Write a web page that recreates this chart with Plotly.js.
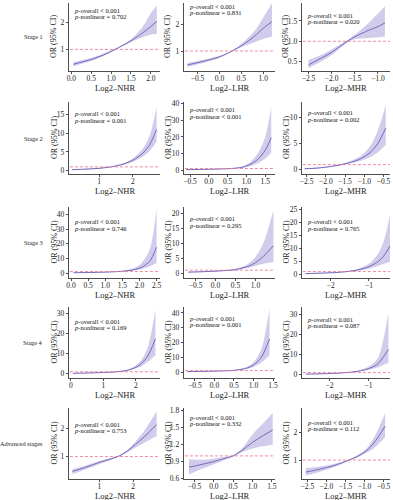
<!DOCTYPE html>
<html><head><meta charset="utf-8">
<script src="https://cdn.plot.ly/plotly-3.0.1.min.js"></script>
<style>html,body{margin:0;padding:0;background:#fff}#chart{width:393px;height:500px}</style>
</head><body><div id="chart"></div>
<script>
// ---------- DATA ----------
const stageLabels = ['Stage 1','Stage 2','Stage 3','Stage 4','Advanced stages'];
const markers = ['NHR','LHR','MHR'];
const yTitle = 'OR (95% CI)';
const pOverall = '< 0.001';
const pNonlinear = [
  ['= 0.702','= 0.831','= 0.020'],
  ['= 0.001','< 0.001','= 0.002'],
  ['= 0.746','= 0.295','= 0.765'],
  ['= 0.169','= 0.001','= 0.087'],
  ['= 0.753','= 0.332','= 0.112']
];

// Stage 1
const s1NhrX  = [0.05,0.5,0.8,1.1,1.5,1.8,2.0,2.15];
const s1NhrOR = [0.45,0.63,0.79,1.0,1.32,1.62,1.85,2.04];
const s1NhrLo = [0.38,0.57,0.75,0.98,1.27,1.45,1.55,1.57];
const s1NhrHi = [0.52,0.69,0.84,1.02,1.38,1.85,2.35,2.63];
const s1LhrX  = [-0.73,-0.4,0.0,0.29,0.55,0.8,1.0,1.2];
const s1LhrOR = [0.48,0.6,0.78,1.0,1.25,1.55,1.85,2.1];
const s1LhrLo = [0.4,0.54,0.74,0.98,1.18,1.33,1.45,1.54];
const s1LhrHi = [0.55,0.66,0.82,1.02,1.33,1.75,2.25,2.79];
const s1MhrX  = [-2.5,-2.2,-2.0,-1.66,-1.5,-1.2,-1.0,-0.85];
const s1MhrOR = [0.42,0.6,0.73,1.0,1.11,1.27,1.36,1.45];
const s1MhrLo = [0.34,0.52,0.66,0.97,1.05,1.08,1.1,1.11];
const s1MhrHi = [0.54,0.68,0.8,1.03,1.16,1.45,1.68,1.86];
// Stage 2
const s2NhrX  = [0.2,0.6,1.0,1.35,1.7,2.0,2.3,2.5,2.7];
const s2NhrOR = [0.25,0.4,0.62,1.0,1.7,2.8,4.7,7.0,11];
const s2NhrLo = [0.15,0.3,0.52,0.9,1.5,2.4,3.8,5.3,7.7];
const s2NhrHi = [0.4,0.5,0.72,1.1,1.9,3.3,6.0,9.5,17];
const s2LhrX  = [-0.6,-0.2,0.2,0.6,0.9,1.1,1.3,1.5,1.66];
const s2LhrOR = [0.3,0.45,0.65,1.0,1.8,3.5,6.5,12,19.5];
const s2LhrLo = [0.2,0.35,0.55,0.85,1.4,2.4,4.2,7,10.7];
const s2LhrHi = [0.45,0.55,0.8,1.2,2.3,4.8,10,20,38];
const s2MhrX  = [-2.55,-2.2,-1.9,-1.6,-1.35,-1.1,-0.85,-0.65,-0.44];
const s2MhrOR = [0.2,0.35,0.6,1.0,1.45,2.1,3.3,5.0,8.0];
const s2MhrLo = [0.12,0.27,0.52,0.9,1.25,1.7,2.4,3.3,4.8];
const s2MhrHi = [0.3,0.45,0.7,1.1,1.7,2.6,4.5,7.5,12.4];
// Stage 3
const s3NhrX  = [0.07,0.5,1.0,1.5,1.8,2.05,2.3,2.5];
const s3NhrOR = [0.2,0.35,0.6,1.2,2.1,3.8,8.0,17.6];
const s3NhrLo = [0.1,0.25,0.5,0.95,1.5,2.5,4.5,6.8];
const s3NhrHi = [0.35,0.45,0.7,1.5,3.0,6.5,16,44];
const s3LhrX  = [-0.68,-0.3,0.1,0.5,0.8,1.0,1.2,1.45];
const s3LhrOR = [0.35,0.5,0.75,1.2,2.2,3.5,5.6,9.1];
const s3LhrLo = [0.2,0.38,0.65,1.0,1.7,2.4,3.1,3.7];
const s3LhrHi = [0.55,0.65,0.88,1.5,3.0,5.4,10,20.8];
const s3MhrX  = [-2.66,-2.3,-1.9,-1.6,-1.3,-1.0,-0.75,-0.6,-0.45];
const s3MhrOR = [0.2,0.35,0.6,0.95,1.6,2.9,5.0,7.3,10.9];
const s3MhrLo = [0.1,0.25,0.5,0.85,1.3,2.1,3.2,4.0,4.7];
const s3MhrHi = [0.35,0.5,0.75,1.1,2.0,4.0,8.2,13.5,22.8];
// Stage 4
const s4NhrX  = [0.06,0.5,1.0,1.4,1.8,2.1,2.35,2.6];
const s4NhrOR = [0.25,0.4,0.65,1.0,2.0,4.2,8.5,17.4];
const s4NhrLo = [0.12,0.3,0.55,0.9,1.7,3.2,5.8,9.3];
const s4NhrHi = [0.4,0.5,0.75,1.15,2.4,5.6,12.5,32];
const s4LhrX  = [-0.7,-0.3,0.1,0.5,0.8,1.0,1.2,1.41];
const s4LhrOR = [0.3,0.45,0.7,1.2,2.5,4.8,10,22.4];
const s4LhrLo = [0.15,0.3,0.6,1.0,2.0,3.5,6.5,11.4];
const s4LhrHi = [0.5,0.6,0.85,1.4,3.1,6.6,15.5,43];
const s4MhrX  = [-2.6,-2.2,-1.8,-1.5,-1.2,-0.95,-0.75,-0.49];
const s4MhrOR = [0.25,0.4,0.7,1.1,1.9,3.3,5.5,12.5];
const s4MhrLo = [0.12,0.3,0.6,0.95,1.6,2.5,3.6,5.8];
const s4MhrHi = [0.4,0.55,0.8,1.3,2.3,4.5,8.5,30.8];
// Advanced stages
const s5NhrX  = [0.2,0.6,1.0,1.3,1.55,1.8,2.0,2.35,2.7];
const s5NhrOR = [0.47,0.62,0.79,0.9,1.0,1.17,1.36,1.72,2.14];
const s5NhrLo = [0.37,0.55,0.73,0.86,0.98,1.13,1.27,1.5,1.73];
const s5NhrHi = [0.55,0.68,0.84,0.94,1.02,1.21,1.44,1.95,2.61];
const s5LhrX  = [-0.64,-0.3,0.0,0.25,0.5,0.75,1.0,1.25,1.52];
const s5LhrOR = [0.8,0.85,0.9,0.95,1.0,1.11,1.24,1.35,1.46];
const s5LhrLo = [0.67,0.77,0.85,0.92,0.99,1.07,1.13,1.17,1.2];
const s5LhrHi = [0.94,0.93,0.95,0.98,1.01,1.15,1.38,1.56,1.76];
const s5MhrX  = [-2.54,-2.2,-1.9,-1.65,-1.41,-1.15,-0.9,-0.7,-0.46];
const s5MhrOR = [0.56,0.66,0.76,0.87,1.0,1.16,1.4,1.72,2.23];
const s5MhrLo = [0.44,0.56,0.69,0.83,0.98,1.12,1.3,1.5,1.82];
const s5MhrHi = [0.71,0.76,0.83,0.91,1.02,1.2,1.5,1.95,2.71];

// tick values
const xTicks = [
  [[0,0.5,1,1.5,2],[-0.5,0,0.5,1],[-2.5,-2,-1.5,-1]],
  [[1,2],[-0.5,0,0.5,1,1.5],[-2.5,-2,-1.5,-1,-0.5]],
  [[0,0.5,1,1.5,2,2.5],[-0.5,0,0.5,1],[-2,-1]],
  [[0,1,2],[-0.5,0,0.5,1,1.5],[-2,-1]],
  [[1,2],[-0.5,0,0.5,1,1.5],[-2.5,-2,-1.5,-1,-0.5]]
];
const yTicks = [
  [[1,2],[1,2],[0.5,1,1.5]],
  [[0,5,10,15],[0,10,20,30,40],[0,5,10]],
  [[0,10,20,30,40],[0,5,10,15,20],[0,5,10,15,20,25]],
  [[0,10,20,30],[0,10,20,30,40],[0,10,20,30]],
  [[1,2],[0.6,0.9,1.2,1.5,1.8],[1,2]]
];

// ---------- LAYOUT PARAMETERS ----------
const W = 393, H = 500;
const colPx = [[69,160],[184,275],[302,390]];
const rowPx = [[3,71],[102,174],[207,278],[307,378],[408,479]];
const xRanges = [
  [[-0.06,2.23],[-0.81,1.27],[-2.64,-0.74]],
  [[0.11,2.8],[-0.66,1.76],[-2.62,-0.33]],
  [[-0.06,2.6],[-0.79,1.49],[-2.75,-0.45]],
  [[-0.06,2.74],[-0.78,1.55],[-2.7,-0.45]],
  [[0.1,2.8],[-0.77,1.58],[-2.64,-0.33]]
];
const yRanges = [
  [[0.2,2.72],[0.25,2.8],[0.27,1.94]],
  [[-0.9,18.3],[-2.3,41],[-0.8,13]],
  [[-3.4,45],[-1.6,22],[-1.5,26]],
  [[-2.1,33.3],[-4,44],[-1.7,33.5]],
  [[0.2,2.73],[0.59,1.85],[0.31,2.9]]
];
const annYPx = [[10,6,15],[114,110,113],[222,219,222],[321,318,319],[424,417,422]];
const annXPx = [72,187,305];
const yTitleXPx = [54,168,286];

const series = [
  [[s1NhrX,s1NhrOR,s1NhrLo,s1NhrHi],[s1LhrX,s1LhrOR,s1LhrLo,s1LhrHi],[s1MhrX,s1MhrOR,s1MhrLo,s1MhrHi]],
  [[s2NhrX,s2NhrOR,s2NhrLo,s2NhrHi],[s2LhrX,s2LhrOR,s2LhrLo,s2LhrHi],[s2MhrX,s2MhrOR,s2MhrLo,s2MhrHi]],
  [[s3NhrX,s3NhrOR,s3NhrLo,s3NhrHi],[s3LhrX,s3LhrOR,s3LhrLo,s3LhrHi],[s3MhrX,s3MhrOR,s3MhrLo,s3MhrHi]],
  [[s4NhrX,s4NhrOR,s4NhrLo,s4NhrHi],[s4LhrX,s4LhrOR,s4LhrLo,s4LhrHi],[s4MhrX,s4MhrOR,s4MhrLo,s4MhrHi]],
  [[s5NhrX,s5NhrOR,s5NhrLo,s5NhrHi],[s5LhrX,s5LhrOR,s5LhrLo,s5LhrHi],[s5MhrX,s5MhrOR,s5MhrLo,s5MhrHi]]
];

const FONT = '"Liberation Serif", "Times New Roman", serif';
const INK = '#222';
const BAND = 'rgba(140,128,206,0.40)';
const LINE = '#7567bb';
const REF = '#ea7f98';
const SMOOTH = 0.8;

function fmt(vals){
  const dec = vals.some(v => Math.abs(v - Math.round(v)) > 1e-9);
  return vals.map(v => {
    const s = dec ? Math.abs(v).toFixed(1) : String(Math.abs(v));
    return v < 0 ? '\u2212' + s : s;
  });
}

const traces = [];
const layout = {
  width: W, height: H,
  margin: {l:0, r:0, t:0, b:0},
  paper_bgcolor: '#fff', plot_bgcolor: '#fff',
  showlegend: false, hovermode: false,
  font: {family: FONT, color: INK},
  shapes: [], annotations: []
};

for (let r = 0; r < 5; r++) {
  for (let c = 0; c < 3; c++) {
    const n = r*3 + c + 1;
    const xa = n === 1 ? 'x' : 'x' + n;
    const ya = n === 1 ? 'y' : 'y' + n;
    const [sx, sor, slo, shi] = series[r][c];
    traces.push({x: sx, y: slo, xaxis: xa, yaxis: ya, mode: 'lines',
      line: {width: 0, shape: 'spline', smoothing: SMOOTH, color: BAND}, hoverinfo: 'skip'});
    traces.push({x: sx, y: shi, xaxis: xa, yaxis: ya, mode: 'lines', fill: 'tonexty',
      fillcolor: BAND, line: {width: 0, shape: 'spline', smoothing: SMOOTH, color: BAND}, hoverinfo: 'skip'});
    traces.push({x: sx, y: sor, xaxis: xa, yaxis: ya, mode: 'lines',
      line: {width: 1, shape: 'spline', smoothing: SMOOTH, color: LINE}, hoverinfo: 'skip'});

    const common = {
      ticks: 'outside', ticklen: 2.5, tickwidth: 0.8, tickcolor: INK,
      showline: true, linecolor: INK, linewidth: 0.8,
      showgrid: false, zeroline: false, automargin: false, fixedrange: true,
      tickfont: {family: FONT, size: 7.5, color: INK}
    };
    layout[n === 1 ? 'xaxis' : 'xaxis' + n] = Object.assign({}, common, {
      domain: [colPx[c][0]/W, colPx[c][1]/W],
      range: xRanges[r][c], anchor: ya, ticklabelstandoff: -2,
      tickmode: 'array', tickvals: xTicks[r][c], ticktext: fmt(xTicks[r][c])
    });
    layout[n === 1 ? 'yaxis' : 'yaxis' + n] = Object.assign({}, common, {
      domain: [1 - rowPx[r][1]/H, 1 - rowPx[r][0]/H],
      range: yRanges[r][c], anchor: xa,
      tickmode: 'array', tickvals: yTicks[r][c], ticktext: fmt(yTicks[r][c])
    });
    // reference line at OR = 1
    layout.shapes.push({type: 'line', xref: xa + ' domain', yref: ya, layer: 'above',
      x0: 0.01, x1: 1, y0: 1, y1: 1, line: {color: REF, width: 0.9, dash: '3px,2px'}});
    // axis titles
    layout.annotations.push({xref: 'paper', yref: 'paper',
      x: ((colPx[c][0] + colPx[c][1]) / 2) / W, y: 1 - (rowPx[r][1] + 16.5) / H,
      xanchor: 'center', yanchor: 'middle', showarrow: false,
      text: 'Log2\u2013' + markers[c], font: {family: FONT, size: 8.5, color: INK}});
    layout.annotations.push({xref: 'paper', yref: 'paper',
      x: yTitleXPx[c] / W, y: 1 - ((rowPx[r][0] + rowPx[r][1]) / 2) / H,
      xanchor: 'center', yanchor: 'middle', showarrow: false, textangle: -90,
      text: yTitle, font: {family: FONT, size: 8, color: INK}});
    // p-values
    layout.annotations.push({xref: 'paper', yref: 'paper', x: annXPx[c]/W, y: 1 - annYPx[r][c]/H,
      xanchor: 'left', yanchor: 'middle', showarrow: false,
      text: '<i>p</i>-overall ' + pOverall.replace('<','&lt;'),
      font: {family: FONT, size: 6.5, color: '#111'}});
    layout.annotations.push({xref: 'paper', yref: 'paper', x: annXPx[c]/W, y: 1 - (annYPx[r][c] + 6.5)/H,
      xanchor: 'left', yanchor: 'middle', showarrow: false,
      text: '<i>p</i>-nonlinear ' + pNonlinear[r][c].replace('<','&lt;'),
      font: {family: FONT, size: 6.5, color: '#111'}});
  }
  layout.annotations.push({xref: 'paper', yref: 'paper', x: 45/W,
    y: 1 - ((rowPx[r][0] + rowPx[r][1]) / 2) / H,
    xanchor: 'right', yanchor: 'middle', showarrow: false,
    text: stageLabels[r], font: {family: FONT, size: 6.3, color: INK}});
}

Plotly.newPlot('chart', traces, layout, {staticPlot: true, displayModeBar: false});
</script>
</body></html>
